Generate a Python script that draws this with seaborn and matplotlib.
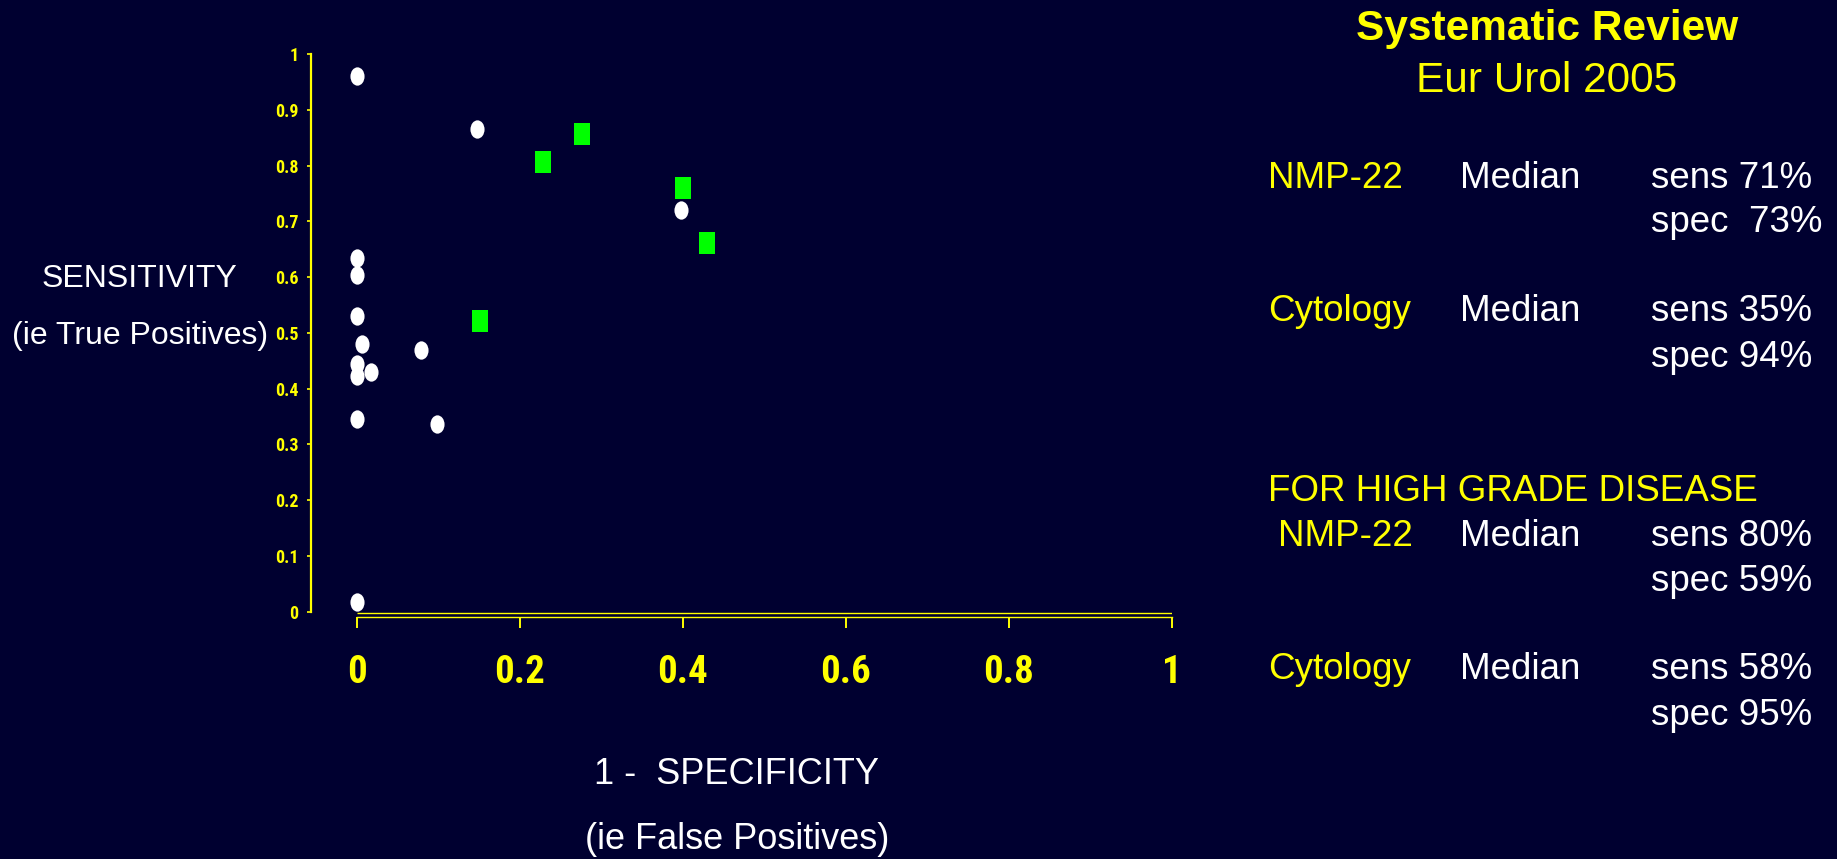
import numpy as np
import pandas as pd
import matplotlib
matplotlib.use("Agg")
import matplotlib.pyplot as plt
from matplotlib import font_manager as fm
from matplotlib.path import Path
from matplotlib.transforms import Affine2D
import seaborn as sns

# studies: 1 - specificity (x) vs sensitivity (y)
white_x = [0.0, 0.148, 0.398, 0.0, 0.0, 0.0, 0.007, 0.079, 0.0, 0.0, 0.018, 0.0, 0.099, 0.0]
white_y = [0.960, 0.865, 0.720, 0.635, 0.604, 0.530, 0.480, 0.469, 0.444, 0.423, 0.430, 0.346, 0.336, 0.018]
green_x = [0.229, 0.276, 0.401, 0.430, 0.151]
green_y = [0.806, 0.857, 0.760, 0.662, 0.521]

xticks = [0, 0.2, 0.4, 0.6, 0.8, 1]
xtick_labels = ["0", "0.2", "0.4", "0.6", "0.8", "1"]
yticks = [0, 0.1, 0.2, 0.3, 0.4, 0.5, 0.6, 0.7, 0.8, 0.9, 1]
ytick_labels = ["0", "0.1", "0.2", "0.3", "0.4", "0.5", "0.6", "0.7", "0.8", "0.9", "1"]

BG = "#000030"
YEL = "#FFFF00"
W, H = 1837, 859

sns.set_theme(style="white", rc={"figure.facecolor": BG, "axes.facecolor": BG,
                                 "savefig.facecolor": BG})
plt.rcParams["font.family"] = ["Liberation Sans", "DejaVu Sans"]


def narrow_bold_font():
    # the slide uses a narrow bold face for the tick numbers; pick one if installed
    picks = []
    for f in fm.fontManager.ttflist:
        tag = (f.name + " " + f.fname).lower()
        narrow = ("narrow" in tag or "condensed" in tag
                  or str(f.stretch) in ("condensed", "semi-condensed", "extra-condensed"))
        try:
            w = int(f.weight)
        except (TypeError, ValueError):
            w = 700 if "bold" in str(f.weight) else 400
        if narrow and 600 <= w <= 800 and "italic" not in tag and "oblique" not in tag:
            rank = 0 if "liberation" in tag else (1 if "roboto" in tag else 2)
            picks.append((rank, f.fname))
    if picks:
        return fm.FontProperties(fname=sorted(picks)[0][1])
    return fm.FontProperties(family="Liberation Sans", weight="bold")


tick_font = narrow_bold_font()

df_w = pd.DataFrame({"fp": white_x, "sens": white_y})
df_g = pd.DataFrame({"fp": green_x, "sens": green_y})

# tall ellipse and tall rectangle markers
ellipse = Path.unit_circle().transformed(Affine2D().scale(0.77, 1.0))
rect = Path([(-0.78, -1), (0.78, -1), (0.78, 1), (-0.78, 1), (-0.78, -1)],
            [Path.MOVETO, Path.LINETO, Path.LINETO, Path.LINETO, Path.CLOSEPOLY])

fig = plt.figure(figsize=(W / 100, H / 100), dpi=100)
ax = fig.add_axes([310.7 / W, (H - 616.5) / H, (1171.7 - 310.7) / W, (616.5 - 54) / H])

sns.scatterplot(data=df_w, x="fp", y="sens", marker=ellipse, s=174, color="white",
                linewidth=0, ax=ax, clip_on=False, zorder=3)
sns.scatterplot(data=df_g, x="fp", y="sens", marker=rect, s=244, color="#00FF00",
                linewidth=0, ax=ax, clip_on=False, zorder=3)

ax.set_xlim(-0.0564, 1.0)
ax.set_ylim(-0.0086, 1.0)
ax.set_xlabel("")
ax.set_ylabel("")

for s in ["top", "right"]:
    ax.spines[s].set_visible(False)
ax.spines["left"].set_color(YEL)
ax.spines["left"].set_linewidth(1.6)
ax.spines["left"].set_bounds(0, 1)
ax.spines["bottom"].set_color(YEL)
ax.spines["bottom"].set_linewidth(1.0)
ax.spines["bottom"].set_bounds(0, 1)
# second line of the double x axis
ax.hlines(-0.0023, 0, 1, color=YEL, linewidth=1.0, zorder=2)

ax.set_yticks(yticks)
ax.set_yticklabels(ytick_labels, fontproperties=tick_font, fontsize=13, color=YEL)
ax.set_xticks(xticks)
ax.set_xticklabels(xtick_labels, fontproperties=tick_font, fontsize=28, color=YEL)
ax.tick_params(axis="y", direction="out", length=3, width=1.2, color=YEL, pad=6, left=True)
ax.tick_params(axis="x", direction="out", length=8, width=1.4, color=YEL, pad=19, bottom=True)


def put(x, y, s, **kw):
    fig.text(x / W, 1 - y / H, s, va="baseline", **kw)


# axis titles
put(139, 287, "SENSITIVITY", color="white", fontsize=23, ha="center")
put(140, 344, "(ie True Positives)", color="white", fontsize=23, ha="center")
put(737, 784, "1 -  SPECIFICITY", color="white", fontsize=26, ha="center")
put(737, 849, "(ie False Positives)", color="white", fontsize=26, ha="center")

# right panel
put(1547, 40, "Systematic Review", color=YEL, fontsize=30.5, fontweight="bold", ha="center")
put(1547, 92, "Eur Urol 2005", color=YEL, fontsize=30.5, ha="center")

fs = 26.5
put(1268, 188, "NMP-22", color=YEL, fontsize=fs)
put(1460, 188, "Median", color="white", fontsize=fs)
put(1651, 188, "sens 71%", color="white", fontsize=fs)
put(1651, 232, "spec  73%", color="white", fontsize=fs)

put(1268, 321, "Cytology", color=YEL, fontsize=fs)
put(1460, 321, "Median", color="white", fontsize=fs)
put(1651, 321, "sens 35%", color="white", fontsize=fs)
put(1651, 367, "spec 94%", color="white", fontsize=fs)

put(1268, 501, "FOR HIGH GRADE DISEASE", color=YEL, fontsize=fs)
put(1278, 546, "NMP-22", color=YEL, fontsize=fs)
put(1460, 546, "Median", color="white", fontsize=fs)
put(1651, 546, "sens 80%", color="white", fontsize=fs)
put(1651, 591, "spec 59%", color="white", fontsize=fs)

put(1268, 679, "Cytology", color=YEL, fontsize=fs)
put(1460, 679, "Median", color="white", fontsize=fs)
put(1651, 679, "sens 58%", color="white", fontsize=fs)
put(1651, 725, "spec 95%", color="white", fontsize=fs)

fig.savefig("out.png", dpi=100)
